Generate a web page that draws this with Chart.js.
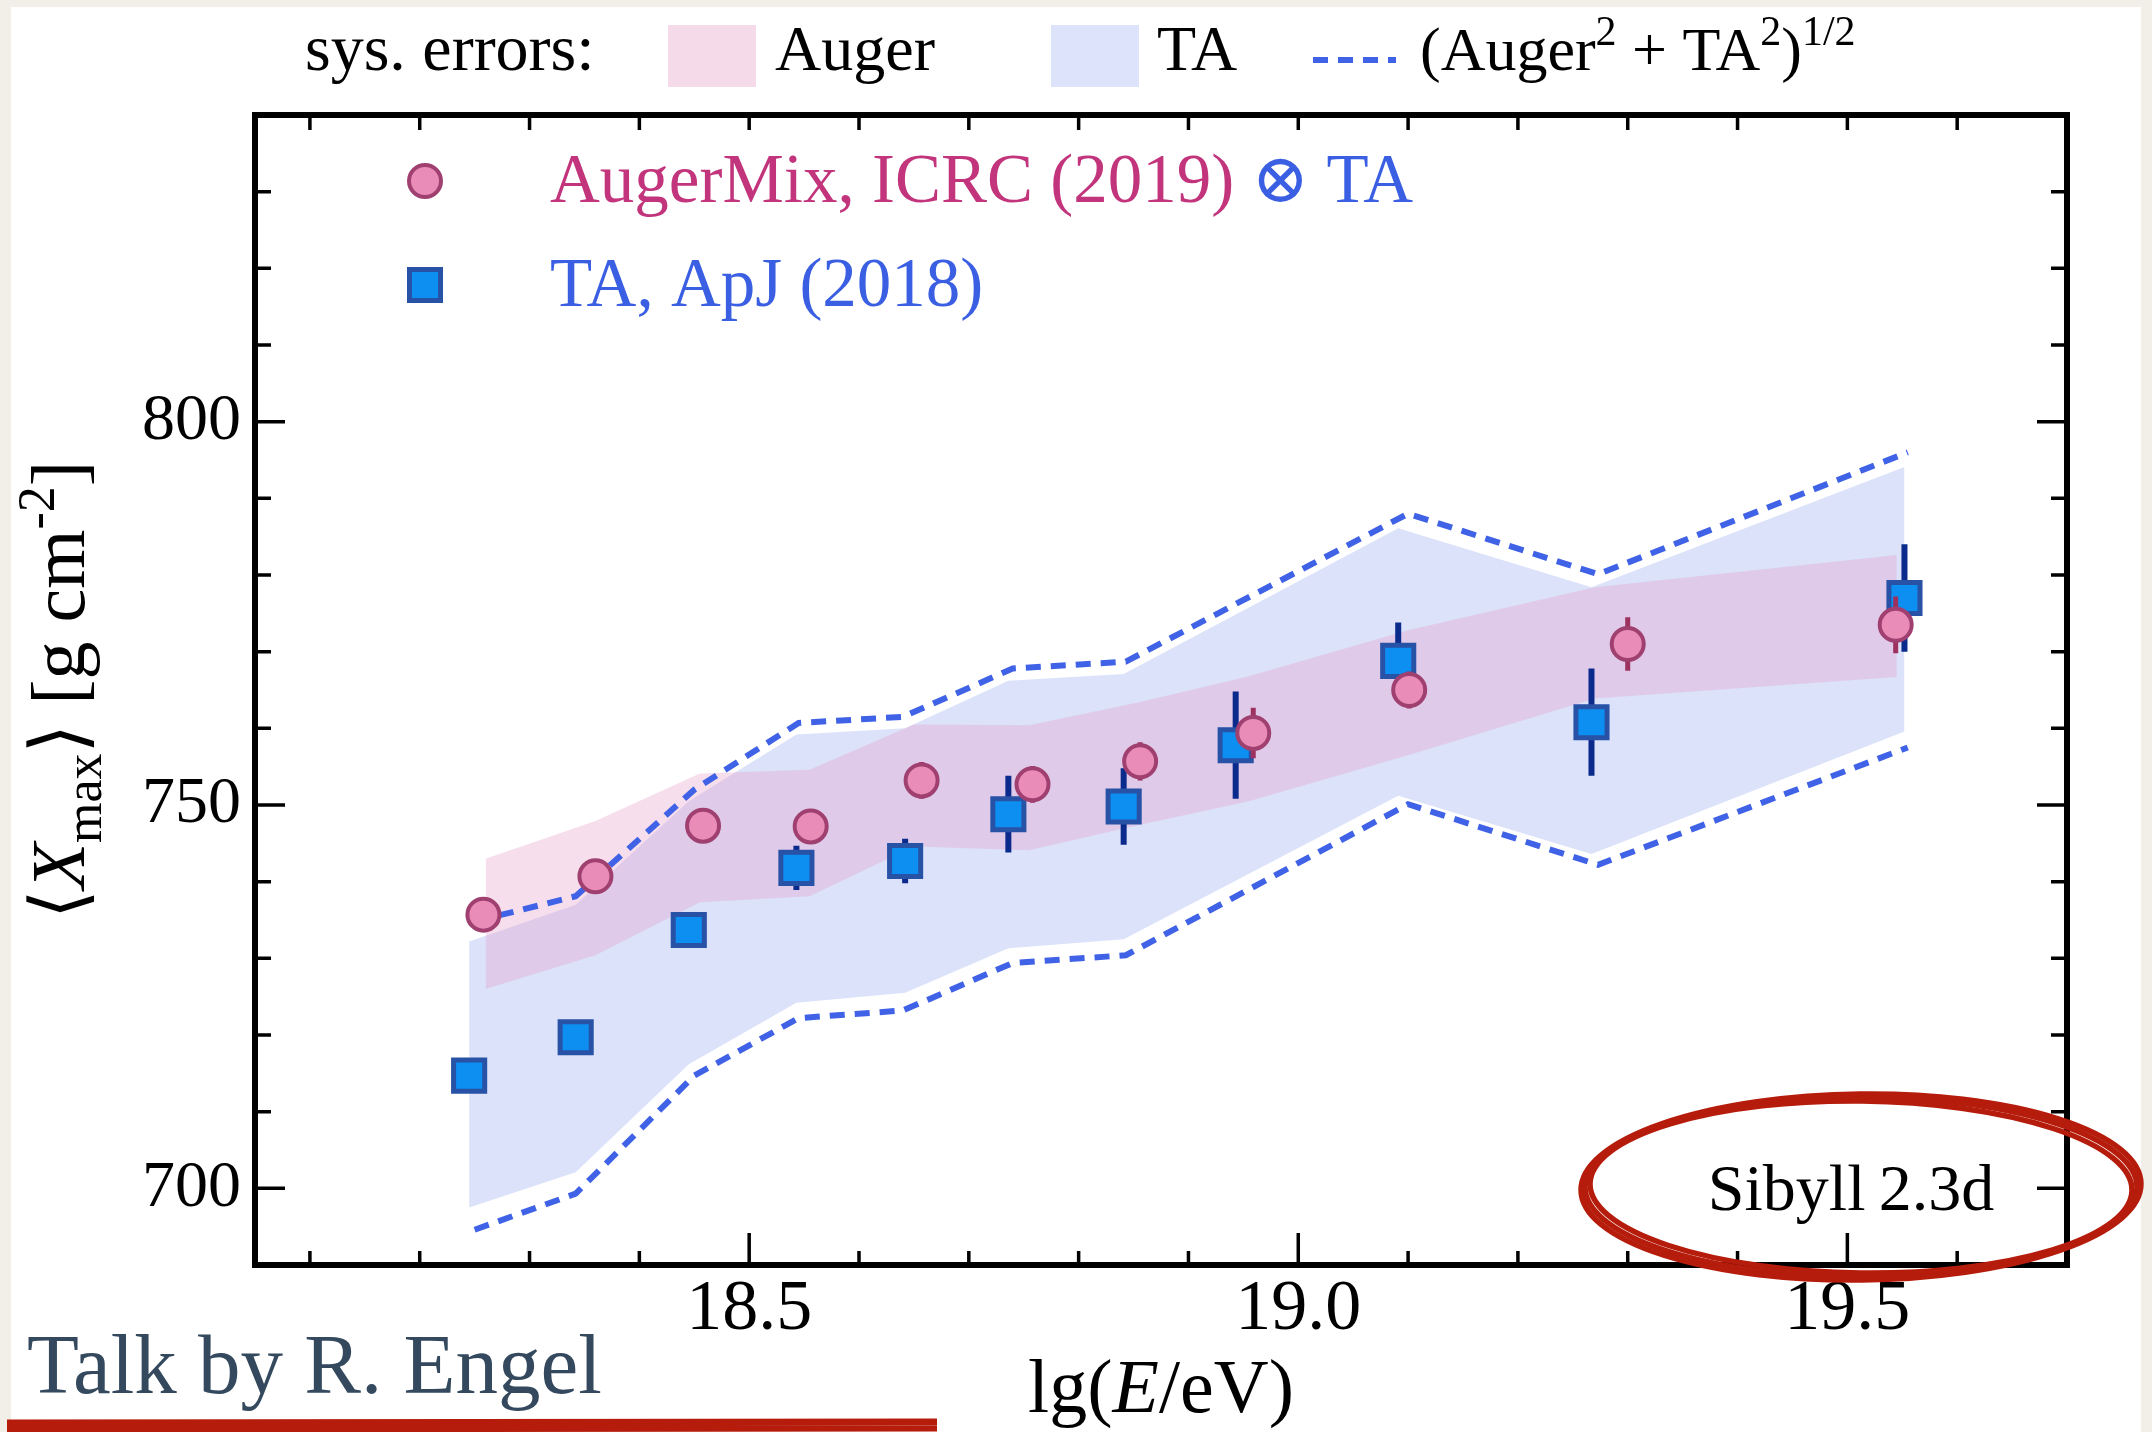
<!DOCTYPE html>
<html>
<head>
<meta charset="utf-8">
<script src="https://cdn.jsdelivr.net/npm/chart.js@4.4.0/dist/chart.umd.min.js"></script>
<style>
html, body { margin: 0; padding: 0; background: #f2eee8; }
canvas { display: block; }
</style>
</head>
<body>
<canvas id="chart" width="2152" height="1432"></canvas>
<script>
'use strict';

// lg(E/eV) and <Xmax> values
const augerE    = [18.258, 18.36, 18.458, 18.556, 18.657, 18.758, 18.856, 18.959, 19.101, 19.3, 19.544];
const augerXmax = [735.7, 740.7, 747.3, 747.2, 753.2, 752.7, 755.7, 759.4, 765.0, 771.0, 773.5];
const augerErr  = [2.0, 2.0, 2.2, 2.2, 2.4, 2.4, 2.5, 3.3, 2.4, 3.5, 3.7];

const taE    = [18.245, 18.342, 18.445, 18.543, 18.642, 18.736, 18.841, 18.943, 19.091, 19.267, 19.552];
const taXmax = [714.7, 719.7, 733.7, 741.8, 742.7, 748.8, 749.8, 757.8, 768.8, 760.8, 777.0];
const taErr  = [1.2, 1.2, 1.4, 2.9, 2.9, 5.0, 5.0, 7.0, 5.0, 7.0, 7.0];

// systematic bands
const augBandE  = [18.26, 18.36, 18.455, 18.555, 18.65, 18.755, 18.855, 18.955, 19.1, 19.27, 19.545];
const augBandHi = [743.0, 747.9, 754.1, 754.6, 760.5, 760.4, 763.4, 766.8, 772.8, 778.4, 782.6];
const augBandLo = [726.0, 730.4, 737.3, 738.1, 744.6, 744.1, 747.4, 750.5, 756.5, 763.9, 766.7];

const taBandE  = [18.245, 18.342, 18.445, 18.543, 18.642, 18.736, 18.841, 19.091, 19.267, 19.552];
const taBandHi = [732.2, 737.0, 750.5, 759.2, 760.0, 766.2, 767.1, 786.1, 778.4, 794.1];
const taBandLo = [697.5, 702.1, 716.2, 724.2, 725.5, 731.3, 732.5, 751.2, 743.6, 759.6];

// (Auger^2 + TA^2)^1/2
const combE  = [18.25, 18.342, 18.45, 18.545, 18.64, 18.74, 18.843, 19.1, 19.273, 19.555];
const combHi = [734.8, 738.1, 752.0, 760.7, 761.5, 767.8, 768.7, 788.0, 780.1, 796.0];
const combLo = [694.6, 699.3, 714.7, 722.2, 723.2, 729.4, 730.4, 750.1, 742.2, 757.5];

const xMajor = [18.5, 19.0, 19.5];
const yMajor = [700, 750, 800];

const SERIF = "'Liberation Serif', 'DejaVu Serif', serif";
const TA_FILL = 'rgba(105,135,235,0.24)';
const AUG_FILL = 'rgba(230,163,202,0.36)';
const DASH = '#4062e6';
const PINK = '#ea8cb8', PINK_EDGE = '#a04070';
const BLUE = '#0d8ff2', BLUE_EDGE = '#2852a6';
const MAGENTA_TXT = '#c2347c', BLUE_TXT = '#3b5fe2';
const RED = '#b51c0b';

const pts = (xs, ys) => xs.map((x, i) => ({x: x, y: ys[i]}));
const bars = (xs, ys, es) => xs.flatMap((x, i) => [
    {x: x, y: ys[i] - es[i]}, {x: x, y: ys[i] + es[i]}, {x: x, y: null}
]);
const NONE = 'rgba(0,0,0,0)';

// back to front
const layers = [
    {data: pts(taBandE, taBandHi), fill: '+1', backgroundColor: TA_FILL, borderColor: NONE, pointRadius: 0},
    {data: pts(taBandE, taBandLo), fill: false, borderColor: NONE, pointRadius: 0},
    {data: pts(augBandE, augBandHi), fill: '+1', backgroundColor: AUG_FILL, borderColor: NONE, pointRadius: 0},
    {data: pts(augBandE, augBandLo), fill: false, borderColor: NONE, pointRadius: 0},
    {data: pts(combE, combHi), borderColor: DASH, borderWidth: 6, borderDash: [15, 10], pointRadius: 0},
    {data: pts(combE, combLo), borderColor: DASH, borderWidth: 6, borderDash: [15, 10], pointRadius: 0},
    {data: bars(taE, taXmax, taErr), borderColor: '#0a2a8c', borderWidth: 6, pointRadius: 0},
    {data: pts(taE, taXmax), showLine: false, pointStyle: 'rect', pointRadius: 22,
        pointBackgroundColor: BLUE, pointBorderColor: BLUE_EDGE, pointBorderWidth: 5},
    {data: bars(augerE, augerXmax, augerErr), borderColor: '#9d315f', borderWidth: 5, pointRadius: 0},
    {data: pts(augerE, augerXmax), showLine: false, pointStyle: 'circle', pointRadius: 16,
        pointBackgroundColor: PINK, pointBorderColor: PINK_EDGE, pointBorderWidth: 4}
];
layers.forEach((d, i) => { d.order = layers.length - i; d.tension = 0; });

function richText(ctx, parts, x, y, size, align) {
    const font = (s, it) => (it ? 'italic ' : '') + s + 'px ' + SERIF;
    let w = 0;
    const m = parts.map(([t, st]) => {
        const s = (st === 'sub' || st === 'sup') ? Math.round(size * 0.68) : size;
        ctx.font = font(s, st === 'i');
        const tw = ctx.measureText(t).width;
        w += tw;
        const dy = st === 'sub' ? size * 0.22 : st === 'sup' ? -size * 0.4 : 0;
        return {t, s, it: st === 'i', dy, tw};
    });
    let cx = align === 'center' ? x - w / 2 : x;
    ctx.textAlign = 'left';
    m.forEach(p => {
        ctx.font = font(p.s, p.it);
        ctx.fillText(p.t, cx, y + p.dy);
        cx += p.tw;
    });
    return w;
}

const page = {
    id: 'page',
    beforeDraw(chart) {
        const ctx = chart.ctx;
        ctx.save();
        ctx.fillStyle = '#f2eee8';
        ctx.fillRect(0, 0, chart.width, chart.height);
        ctx.fillStyle = '#ffffff';
        ctx.fillRect(11, 7, 2130, 1425);
        ctx.restore();
    }
};

const frame = {
    id: 'frame',
    afterDatasetsDraw(chart) {
        const {ctx, chartArea: a, scales: {x, y}} = chart;
        ctx.save();
        ctx.strokeStyle = '#000';
        ctx.lineWidth = 3.5;
        ctx.beginPath();
        x.ticks.forEach(t => {
            const px = x.getPixelForValue(t.value);
            if (px <= a.left + 3 || px >= a.right - 3) return;
            const big = t.label !== '';
            ctx.moveTo(px, a.bottom); ctx.lineTo(px, a.bottom - (big ? 32 : 14));
            ctx.moveTo(px, a.top); ctx.lineTo(px, a.top + 15);
        });
        y.ticks.forEach(t => {
            const py = y.getPixelForValue(t.value);
            if (py <= a.top + 3 || py >= a.bottom - 3) return;
            const len = t.label !== '' ? 30 : 16;
            ctx.moveTo(a.left, py); ctx.lineTo(a.left + len, py);
            ctx.moveTo(a.right, py); ctx.lineTo(a.right - len, py);
        });
        ctx.stroke();
        ctx.lineWidth = 6;
        ctx.strokeRect(a.left, a.top, a.right - a.left, a.bottom - a.top);
        ctx.restore();
    },
    afterDraw(chart) {
        const ctx = chart.ctx;
        ctx.save();
        ctx.fillStyle = '#000';
        ctx.textBaseline = 'alphabetic';

        // axis titles
        richText(ctx, [['lg('], ['E', 'i'], ['/eV)']], 1161, 1412, 76, 'center');
        ctx.save();
        ctx.translate(84, 690);
        ctx.rotate(-Math.PI / 2);
        richText(ctx, [['\u27E8'], ['X', 'i'], ['max', 'sub'], ['\u27E9 [g cm'], ['-2', 'sup'], [']']], 0, 0, 76, 'center');
        ctx.restore();

        // top legend: systematic errors
        ctx.fillStyle = '#000';
        richText(ctx, [['sys. errors:']], 305, 70, 66, 'left');
        ctx.fillStyle = '#f5dbe9';
        ctx.fillRect(668, 25, 88, 62);
        ctx.fillStyle = '#dce3fa';
        ctx.fillRect(1051, 25, 88, 62);
        ctx.fillStyle = '#000';
        richText(ctx, [['Auger']], 775, 70, 64, 'left');
        richText(ctx, [['TA']], 1157, 70, 64, 'left');
        ctx.strokeStyle = DASH;
        ctx.lineWidth = 6;
        ctx.setLineDash([15, 10]);
        ctx.beginPath();
        ctx.moveTo(1313, 60); ctx.lineTo(1396, 60);
        ctx.stroke();
        ctx.setLineDash([]);
        richText(ctx, [['(Auger'], ['2', 'sup'], [' + TA'], ['2', 'sup'], [')'], ['1/2', 'sup']], 1420, 70, 62, 'left');

        // inner legend
        ctx.beginPath();
        ctx.arc(425, 181, 16, 0, Math.PI * 2);
        ctx.fillStyle = PINK; ctx.fill();
        ctx.lineWidth = 4; ctx.strokeStyle = PINK_EDGE; ctx.stroke();
        ctx.fillStyle = BLUE; ctx.fillRect(409.5, 269.5, 31, 31);
        ctx.lineWidth = 5; ctx.strokeStyle = BLUE_EDGE; ctx.strokeRect(409.5, 269.5, 31, 31);
        ctx.fillStyle = MAGENTA_TXT;
        const w1 = richText(ctx, [['AugerMix, ICRC (2019) ']], 550, 202, 69, 'left');
        ctx.fillStyle = BLUE_TXT;
        richText(ctx, [['\u2297 TA']], 550 + w1, 202, 69, 'left');
        richText(ctx, [['TA, ApJ (2018)']], 550, 306, 69, 'left');

        // model label
        ctx.fillStyle = '#000';
        richText(ctx, [['Sibyll\u20092.3d']], 1851, 1210, 66, 'center');

        // red hand-drawn marks
        ctx.strokeStyle = RED;
        ctx.lineWidth = 5.5;
        [[276, 90, 0], [271, 86, 0.012], [280, 93, -0.012]].forEach(([rx, ry, rot]) => {
            ctx.beginPath();
            ctx.ellipse(1861, 1187, rx, ry, rot, 0, Math.PI * 2);
            ctx.stroke();
        });
        ctx.lineWidth = 7;
        ctx.beginPath();
        ctx.moveTo(7, 1423); ctx.lineTo(937, 1422);
        ctx.moveTo(7, 1429); ctx.lineTo(937, 1428);
        ctx.stroke();

        ctx.fillStyle = '#34495e';
        ctx.font = '85px ' + SERIF;
        ctx.textAlign = 'left';
        ctx.fillText('Talk by R. Engel', 27, 1393);
        ctx.restore();
    }
};

const isMajor = (v, list) => list.some(m => Math.abs(v - m) < 1e-6);

new Chart(document.getElementById('chart'), {
    type: 'line',
    data: {datasets: layers},
    options: {
        responsive: false,
        devicePixelRatio: 1,
        animation: false,
        layout: {padding: {top: 115, right: 85, left: 0, bottom: 0}},
        plugins: {legend: {display: false}, tooltip: {enabled: false}},
        scales: {
            x: {
                type: 'linear',
                min: 18.05,
                max: 19.7,
                grid: {display: false, drawTicks: false},
                border: {display: false},
                ticks: {
                    stepSize: 0.1,
                    includeBounds: false,
                    autoSkip: false,
                    maxRotation: 0,
                    padding: 2,
                    color: '#000',
                    font: {family: SERIF, size: 72},
                    callback: v => isMajor(v, xMajor) ? v.toFixed(1) : ''
                },
                afterFit: s => { s.height = 167; }
            },
            y: {
                type: 'linear',
                min: 690,
                max: 840,
                grid: {display: false, drawTicks: false},
                border: {display: false},
                ticks: {
                    stepSize: 10,
                    includeBounds: false,
                    autoSkip: false,
                    padding: 14,
                    color: '#000',
                    font: {family: SERIF, size: 66},
                    callback: v => isMajor(v, yMajor) ? String(v) : ''
                },
                afterFit: s => { s.width = 255; }
            }
        }
    },
    plugins: [page, frame]
});
</script>
</body>
</html>
